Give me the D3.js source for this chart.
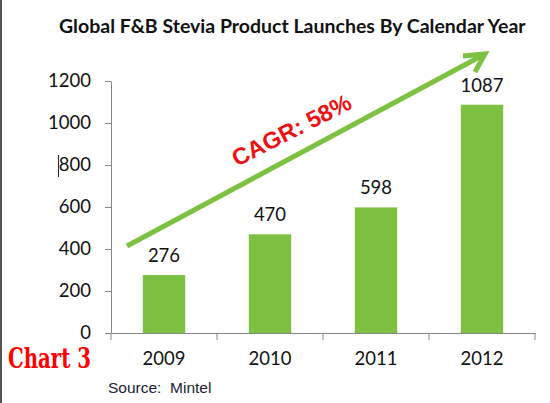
<!DOCTYPE html>
<html><head><meta charset="utf-8">
<script src="https://cdn.jsdelivr.net/npm/d3@7"></script>
<style>html,body{margin:0;padding:0;background:#fff;overflow:hidden}</style>
</head><body>
<svg id="c" width="550" height="403"></svg>
<script>
const categories = ["2009", "2010", "2011", "2012"];
const launches = [276, 470, 598, 1087];
const yTicks = [0, 200, 400, 600, 800, 1000, 1200];
const titleText = "Global F&B Stevia Product Launches By Calendar Year";
const cagrText = "CAGR: 58%";
const sourceText = "Source:  Mintel";
const chartLabel = "Chart 3";

const svg = d3.select("#c");
const W = 550, H = 403;
const m = {left: 111, right: 15, top: 81, bottom: 70};
const x = d3.scaleBand().domain(categories).range([m.left, 535]).paddingInner(0.6).paddingOuter(0.3);
const y = d3.scaleLinear().domain([0, 1200]).range([333, 81]);
const axisCol = "#868686";
const font = "Lato, 'Open Sans', sans-serif";
const green = "#7DC142";

svg.append("rect").attr("width", W).attr("height", H).attr("fill", "#fff");
// left frame line
svg.append("line").attr("x1", 1).attr("x2", 1).attr("y1", 0).attr("y2", H)
  .attr("stroke", "#555").attr("stroke-width", 2);

// title
svg.append("text").attr("x", 59).attr("y", 33).text(titleText)
  .attr("font-family", font).attr("font-weight", "bold").attr("font-size", 19.5).attr("fill", "#111");

// y axis
const ya = svg.append("g").attr("transform", `translate(${m.left},0)`)
  .call(d3.axisLeft(y).tickValues(yTicks).tickFormat(d3.format("d")).tickSize(6).tickPadding(14).tickSizeOuter(0));
ya.select(".domain").attr("stroke", axisCol);
ya.selectAll(".tick line").attr("stroke", axisCol);
ya.selectAll(".tick text").attr("font-family", font).attr("font-size", 18.5).attr("fill", "#111");

// x axis
const xa = svg.append("g").attr("transform", `translate(0,${y(0)})`)
  .call(d3.axisBottom(x).tickSize(0).tickPadding(19).tickSizeOuter(0));
xa.select(".domain").attr("stroke", axisCol);
xa.selectAll(".tick text").attr("font-family", font).attr("font-size", 18.5).attr("fill", "#111");
// category boundary ticks
const bounds = categories.map(c => x(c) - x.step() * x.paddingInner() / 2).concat([535]);
xa.selectAll(".bt").data(bounds).enter().append("line")
  .attr("x1", d => d).attr("x2", d => d).attr("y1", 0).attr("y2", 7).attr("stroke", axisCol);

// bars
svg.selectAll(".bar").data(launches).enter().append("rect")
  .attr("x", (d, i) => x(categories[i])).attr("width", x.bandwidth())
  .attr("y", d => y(d)).attr("height", d => y(0) - y(d)).attr("fill", green);

// bar labels
svg.selectAll(".lbl").data(launches).enter().append("text")
  .attr("x", (d, i) => x(categories[i]) + x.bandwidth() / 2).attr("y", d => y(d) - 13)
  .attr("text-anchor", "middle").text(d => d)
  .attr("font-family", font).attr("font-size", 18.5).attr("fill", "#111");

// cursor artifact before 800
svg.append("line").attr("x1", 58.5).attr("x2", 58.5).attr("y1", y(800) - 10).attr("y2", y(800) + 12)
  .attr("stroke", "#222").attr("stroke-width", 1);

// CAGR arrow
const a0 = [127, 246], a1 = [485, 54];
svg.append("line").attr("x1", a0[0]).attr("y1", a0[1]).attr("x2", a1[0]).attr("y2", a1[1])
  .attr("stroke", green).attr("stroke-width", 5);
svg.append("path").attr("d", `M463,56 L${a1[0]},${a1[1]} L475,72`)
  .attr("fill", "none").attr("stroke", green).attr("stroke-width", 5).attr("stroke-linejoin", "miter");

svg.append("text").attr("transform", "translate(237,167) rotate(-27)").text(cagrText)
  .attr("font-family", "'Liberation Sans', Arial, sans-serif").attr("font-weight", "bold")
  .attr("font-size", 23.5).attr("fill", "#EE1111");

// Chart 3 label
svg.append("text").attr("x", 8).attr("y", 368).text(chartLabel)
  .attr("font-family", "'DejaVu Serif Condensed', 'DejaVu Serif', serif").attr("font-weight", "bold")
  .attr("font-size", 27.5).attr("fill", "#FF0000")
  .attr("textLength", 83).attr("lengthAdjust", "spacingAndGlyphs");

// source
svg.append("text").attr("x", 108).attr("y", 393).text(sourceText)
  .attr("font-family", "'Liberation Sans', Arial, sans-serif").attr("font-size", 15.5).attr("fill", "#1a2033")
  .style("white-space", "pre");
</script>
</body></html>
